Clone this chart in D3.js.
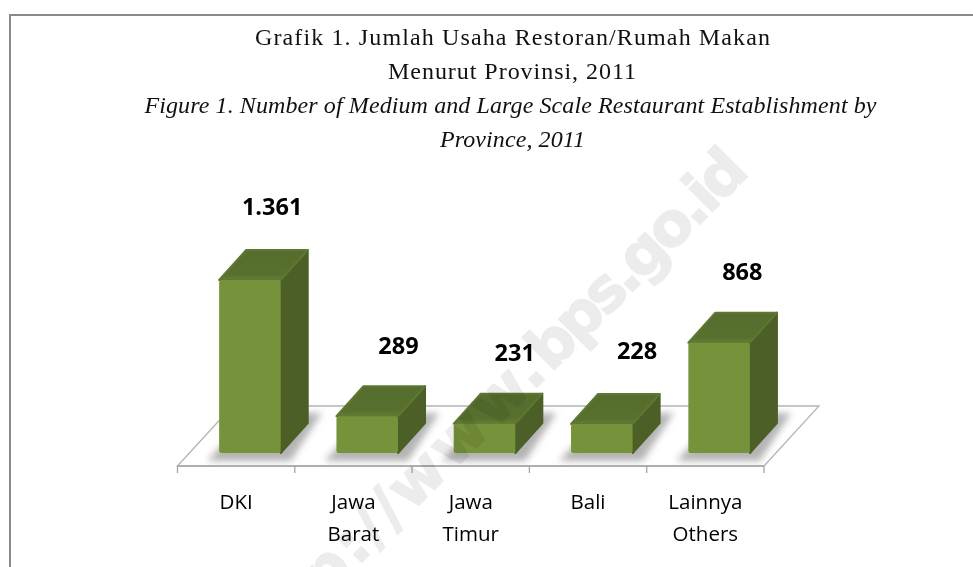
<!DOCTYPE html>
<html>
<head>
<meta charset="utf-8">
<script src="https://cdnjs.cloudflare.com/ajax/libs/d3/7.8.5/d3.min.js"></script>
<style>
  html, body { margin: 0; padding: 0; background: #fff; }
  svg { display: block; }
</style>
</head>
<body>
<div id="chart_wrapper"></div>
<script>
var categories = ["DKI", "Jawa Barat", "Jawa Timur", "Bali", "Lainnya Others"];
var values = [1361, 289, 231, 228, 868];
var valueLabels = ["1.361", "289", "231", "228", "868"];
var titleLines = [
  "Grafik 1. Jumlah Usaha Restoran/Rumah Makan",
  "Menurut Provinsi, 2011",
  "Figure 1. Number of Medium and Large Scale Restaurant Establishment by",
  "Province, 2011"
];

var width = 973, height = 567;
var svg = d3.select("#chart_wrapper").append("svg").attr("width", width).attr("height", height);

var x = d3.scaleBand().domain(categories).range([177.5, 764]);
var y = d3.scaleLinear().domain([0, 1361]).range([453, 280]);

var depthX = 27, depthY = -30;     // bar depth
var floorX = 55, floorY = -60;     // floor depth
var floorFront = 466;
var barLeft = x.bandwidth() * 0.355, barWidth = x.bandwidth() * 0.525;

var defs = svg.append("defs");
defs.append("filter").attr("id", "blur").attr("x", "-30%").attr("y", "-30%").attr("width", "160%").attr("height", "160%")
  .append("feGaussianBlur").attr("stdDeviation", 3.5);
defs.append("filter").attr("id", "soft").append("feGaussianBlur").attr("stdDeviation", 0.8);
var topGrad = defs.append("linearGradient").attr("id", "topGrad").attr("x1", 0).attr("y1", 1).attr("x2", 0).attr("y2", 0);
topGrad.append("stop").attr("offset", "0%").attr("stop-color", "#647f35");
topGrad.append("stop").attr("offset", "18%").attr("stop-color", "#57702e");
topGrad.append("stop").attr("offset", "100%").attr("stop-color", "#566d2d");

// frame
svg.append("path").attr("d", "M10,567V15H973").attr("fill", "none").attr("stroke", "#8a8a8a").attr("stroke-width", 2);

// title
var titleY = [37, 71, 105, 139];
var titleSpan = [515, 248, 732, 145];
svg.append("g").selectAll("text").data(titleLines).enter().append("text")
  .attr("x", function(d, i) { return i == 0 ? 512.5 : (i == 1 ? 512 : (i == 2 ? 510.5 : 512.5)); })
  .attr("y", function(d, i) { return titleY[i]; })
  .attr("dy", "0.34em")
  .attr("text-anchor", "middle")
  .attr("font-family", "'Liberation Serif', serif")
  .attr("font-size", 24)
  .attr("font-style", function(d, i) { return i > 1 ? "italic" : "normal"; })
  .attr("fill", "#111")
  .attr("textLength", function(d, i) { return titleSpan[i]; })
  .attr("lengthAdjust", "spacing")
  .text(function(d) { return d; });

// floor
var x0 = x.range()[0], x1 = x.range()[1];
svg.append("path")
  .attr("d", "M" + x0 + "," + floorFront + "L" + (x0 + floorX) + "," + (floorFront + floorY) +
             "H" + (x1 + floorX) + "L" + x1 + "," + floorFront + "Z")
  .attr("fill", "#fff").attr("stroke", "#b5b5b5").attr("stroke-width", 1.3);
svg.append("line").attr("x1", x0).attr("x2", x1).attr("y1", floorFront).attr("y2", floorFront)
  .attr("stroke", "#a6a6a6").attr("stroke-width", 1.6);

// ticks
svg.append("g").selectAll("line").data(categories.concat(["end"])).enter().append("line")
  .attr("x1", function(d, i) { return x0 + i * x.bandwidth(); })
  .attr("x2", function(d, i) { return x0 + i * x.bandwidth(); })
  .attr("y1", floorFront).attr("y2", floorFront + 7)
  .attr("stroke", "#a6a6a6").attr("stroke-width", 1.3);

var data = categories.map(function(c, i) { return { name: c, value: values[i], label: valueLabels[i] }; });

var bars = svg.append("g").selectAll("g").data(data).enter().append("g")
  .attr("transform", function(d) { return "translate(" + (x(d.name) + barLeft) + ",0)"; });

// floor shadow
bars.append("path")
  .attr("d", "M-12," + (y(0) + 8) + "H" + (barWidth + 10) + "L" + (barWidth + depthX + 14) + "," + (y(0) + depthY - 10) +
             "H" + (depthX + 6) + "Z")
  .attr("fill", "#b4b4b4")
  .attr("filter", "url(#blur)");

// side
bars.append("path")
  .attr("d", function(d) {
    return "M" + barWidth + "," + y(d.value) + "L" + (barWidth + depthX) + "," + (y(d.value) + depthY) +
           "V" + (y(0) + depthY) + "L" + barWidth + "," + y(0) + "Z";
  })
  .attr("fill", "#4b5f27").attr("stroke", "#4b5f27").attr("stroke-linejoin", "round").attr("stroke-width", 2);

// top
bars.append("path")
  .attr("d", function(d) {
    return "M0," + y(d.value) + "L" + depthX + "," + (y(d.value) + depthY) +
           "H" + (barWidth + depthX) + "L" + barWidth + "," + y(d.value) + "Z";
  })
  .attr("fill", "url(#topGrad)").attr("stroke", "#5e7831").attr("stroke-linejoin", "round").attr("stroke-width", 2);

// front
bars.append("rect")
  .attr("x", 0).attr("width", barWidth)
  .attr("y", function(d) { return y(d.value); })
  .attr("height", function(d) { return y(0) - y(d.value); })
  .attr("rx", 2.5)
  .attr("fill", "#76923b");

// bevel highlight along the top of the front face
bars.append("line")
  .attr("x1", 1).attr("x2", barWidth - 1)
  .attr("y1", function(d) { return y(d.value) + 1; })
  .attr("y2", function(d) { return y(d.value) + 1; })
  .attr("stroke", "#7f9c42").attr("stroke-width", 1.5).attr("filter", "url(#soft)");

// value labels, placed by hand in the original chart
var labelNudge = [53, 62, 61, 66, 54];
var labelLift = [73, 70, 71, 73, 71];
svg.append("g").selectAll("text").data(data).enter().append("text")
  .attr("x", function(d, i) { return x(d.name) + barLeft + labelNudge[i]; })
  .attr("y", function(d, i) { return y(d.value) - labelLift[i]; })
  .attr("dy", "0.35em")
  .attr("text-anchor", "middle")
  .attr("font-family", "'Open Sans', sans-serif")
  .attr("font-weight", "bold")
  .attr("font-size", 23.5)
  .attr("fill", "#000")
  .text(function(d) { return d.label; });

// category labels
var cat = svg.append("g").selectAll("text").data(categories).enter().append("text")
  .attr("text-anchor", "middle")
  .attr("font-family", "'Open Sans', sans-serif")
  .attr("font-size", 20.5)
  .attr("fill", "#000");
cat.each(function(d) {
  var t = d3.select(this);
  d.split(" ").forEach(function(w, i) {
    t.append("tspan")
      .attr("x", x(d) + x.bandwidth() / 2)
      .attr("y", 509 + i * 32)
      .text(w);
  });
});

// watermark
var mark = svg.append("text")
  .attr("transform", "translate(748,176) rotate(-45)")
  .attr("text-anchor", "end")
  .attr("font-family", "'DejaVu Sans', sans-serif")
  .attr("font-weight", "bold")
  .attr("font-size", 60)
  .attr("fill", "#ececec")
  .attr("stroke", "#ececec")
  .attr("stroke-width", 1.5)
  .style("mix-blend-mode", "multiply");
mark.append("tspan").attr("letter-spacing", 3).text("http://www.");
mark.append("tspan").attr("letter-spacing", -4).text("bps.go.id");
</script>
</body>
</html>
